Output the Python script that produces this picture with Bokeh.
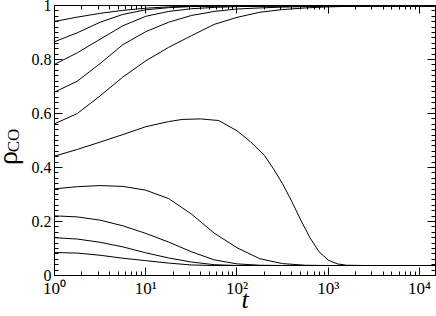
from bokeh.plotting import figure
from bokeh.models import (Range1d, LogAxis, LinearAxis, CustomJSTickFormatter,
                          LogTicker, BasicTicker, FixedTicker)
from bokeh.embed import file_html
from bokeh.resources import INLINE

# time grid (log-spaced), shared by most curves
t_grid = [1, 1.78, 3.16, 5.62, 10, 17.8, 31.6, 56.2, 100, 178, 316, 562,
          1000, 1780, 3160, 5620, 10000, 15000]

rho_1 = [0.941, 0.957, 0.971, 0.982, 0.990, 0.995, 0.997, 0.998, 0.998, 0.998,
         0.998, 0.998, 0.998, 0.998, 0.998, 0.998, 0.998, 0.998]
rho_2 = [0.866, 0.899, 0.938, 0.967, 0.984, 0.992, 0.996, 0.997, 0.998, 0.998,
         0.998, 0.998, 0.998, 0.998, 0.998, 0.998, 0.998, 0.998]
rho_3 = [0.782, 0.825, 0.875, 0.925, 0.960, 0.978, 0.988, 0.993, 0.996, 0.997,
         0.998, 0.998, 0.998, 0.998, 0.998, 0.998, 0.998, 0.998]
rho_4 = [0.679, 0.720, 0.785, 0.855, 0.903, 0.938, 0.963, 0.978, 0.987, 0.991,
         0.994, 0.996, 0.997, 0.998, 0.998, 0.998, 0.998, 0.998]
rho_5 = [0.562, 0.600, 0.665, 0.735, 0.795, 0.845, 0.888, 0.930, 0.956, 0.975,
         0.985, 0.991, 0.995, 0.997, 0.998, 0.998, 0.998, 0.998]
rho_7 = [0.321, 0.329, 0.333, 0.330, 0.316, 0.285, 0.228, 0.157, 0.103, 0.062,
         0.044, 0.038, 0.037, 0.037, 0.037, 0.037, 0.037, 0.037]
rho_8 = [0.221, 0.217, 0.205, 0.184, 0.156, 0.124, 0.088, 0.058, 0.043, 0.038,
         0.037, 0.037, 0.037, 0.037, 0.037, 0.037, 0.037, 0.037]
rho_9 = [0.140, 0.135, 0.123, 0.106, 0.084, 0.065, 0.050, 0.040, 0.037, 0.037,
         0.037, 0.037, 0.037, 0.037, 0.037, 0.037, 0.037, 0.037]
rho_10 = [0.085, 0.083, 0.075, 0.064, 0.055, 0.046, 0.039, 0.037, 0.037, 0.037,
          0.037, 0.037, 0.037, 0.037, 0.037, 0.037, 0.037, 0.037]

# the non-monotonic curve, with its own finer time grid
t_hump = [1, 1.78, 3.16, 5.62, 10, 17.8, 25.1, 39.8, 63.1, 100, 141, 200, 251,
          316, 398, 501, 631, 794, 1000, 1259, 1585, 2512, 15000]
rho_6 = [0.442, 0.467, 0.494, 0.522, 0.551, 0.570, 0.578, 0.580, 0.574, 0.536,
         0.495, 0.445, 0.395, 0.340, 0.275, 0.205, 0.140, 0.088, 0.057, 0.043,
         0.038, 0.037, 0.037]

x_range = (1, 15000)
y_range = (0, 1)

FONT = "Liberation Serif"
NB = "\u00a0"

p = figure(width=448, height=319, x_axis_type="log",
           x_range=Range1d(*x_range), y_range=Range1d(*y_range),
           output_backend="svg", toolbar_location=None,
           min_border_left=61, min_border_right=1, min_border_top=8,
           min_border_bottom=41)
p.styles = {"margin-top": "-3px", "margin-left": "-12px", "margin-bottom": "-8px"}
p.background_fill_color = "white"
p.border_fill_color = "white"
p.grid.visible = False
p.outline_line_color = "black"
p.outline_line_width = 1

for series in [rho_1, rho_2, rho_3, rho_4, rho_5, rho_7, rho_8, rho_9, rho_10]:
    p.line(t_grid, series, line_color="black", line_width=1)
p.line(t_hump, rho_6, line_color="black", line_width=1)

sup = CustomJSTickFormatter(code="""
const s = {'0':'\u2070','1':'\u00b9','2':'\u00b2','3':'\u00b3','4':'\u2074','5':'\u2075','6':'\u2076','7':'\u2077','8':'\u2078','9':'\u2079','-':'\u207b'};
const e = Math.round(Math.log10(tick));
return '10' + String(e).split('').map(c => s[c]).join('');
""")
yfmt = CustomJSTickFormatter(code="return String(Number(tick.toFixed(2)));")
blank = CustomJSTickFormatter(code="return '';")

def style_axis(ax):
    ax.major_tick_in = 8
    ax.major_tick_out = 0
    ax.minor_tick_in = 4
    ax.minor_tick_out = 0
    ax.axis_line_color = "black"
    ax.axis_line_width = 1
    ax.major_tick_line_color = "black"
    ax.minor_tick_line_color = "black"
    ax.major_label_text_font = FONT
    ax.major_label_text_font_size = "16px"
    ax.major_label_text_color = "black"
    ax.axis_label_text_font = FONT
    ax.axis_label_text_font_style = "normal"
    ax.axis_label_text_color = "black"

# bottom axis with the t label
xa = p.xaxis[0]
xa.ticker = LogTicker(num_minor_ticks=10)
xa.formatter = sup
style_axis(xa)
xa.major_label_text_font_size = "17px"
xa.major_label_standoff = 3
xa.axis_label = "t"
xa.axis_label_text_font_style = "italic"
xa.axis_label_text_font_size = "26px"
xa.axis_label_standoff = -16

# left axis with tick labels and the "CO" subscript
ya = p.yaxis[0]
ya.ticker = BasicTicker(desired_num_ticks=6, num_minor_ticks=10)
ya.formatter = yfmt
style_axis(ya)
ya.major_label_standoff = 3
ya.axis_label = "CO"
ya.axis_label_text_font_size = "17px"
ya.axis_label_standoff = 6

# outer left axis carrying only the "ρ" symbol
rho_axis = LinearAxis(ticker=FixedTicker(ticks=[]))
style_axis(rho_axis)
rho_axis.axis_line_color = None
rho_axis.major_tick_in = 0
rho_axis.minor_tick_in = 0
rho_axis.major_label_standoff = 0
rho_axis.axis_label = "ρ" + NB * 5
rho_axis.axis_label_text_font_size = "28px"
rho_axis.axis_label_standoff = -22
p.add_layout(rho_axis, "left")

# mirrored tick marks on top and right
top = LogAxis(ticker=LogTicker(num_minor_ticks=10), formatter=blank)
style_axis(top)
top.major_label_text_font_size = "1px"
top.major_label_standoff = 0
p.add_layout(top, "above")

right = LinearAxis(ticker=BasicTicker(desired_num_ticks=6, num_minor_ticks=10),
                   formatter=blank)
style_axis(right)
right.major_label_text_font_size = "1px"
right.major_label_standoff = 0
p.add_layout(right, "right")

open("out.html", "w").write(file_html(p, INLINE))
